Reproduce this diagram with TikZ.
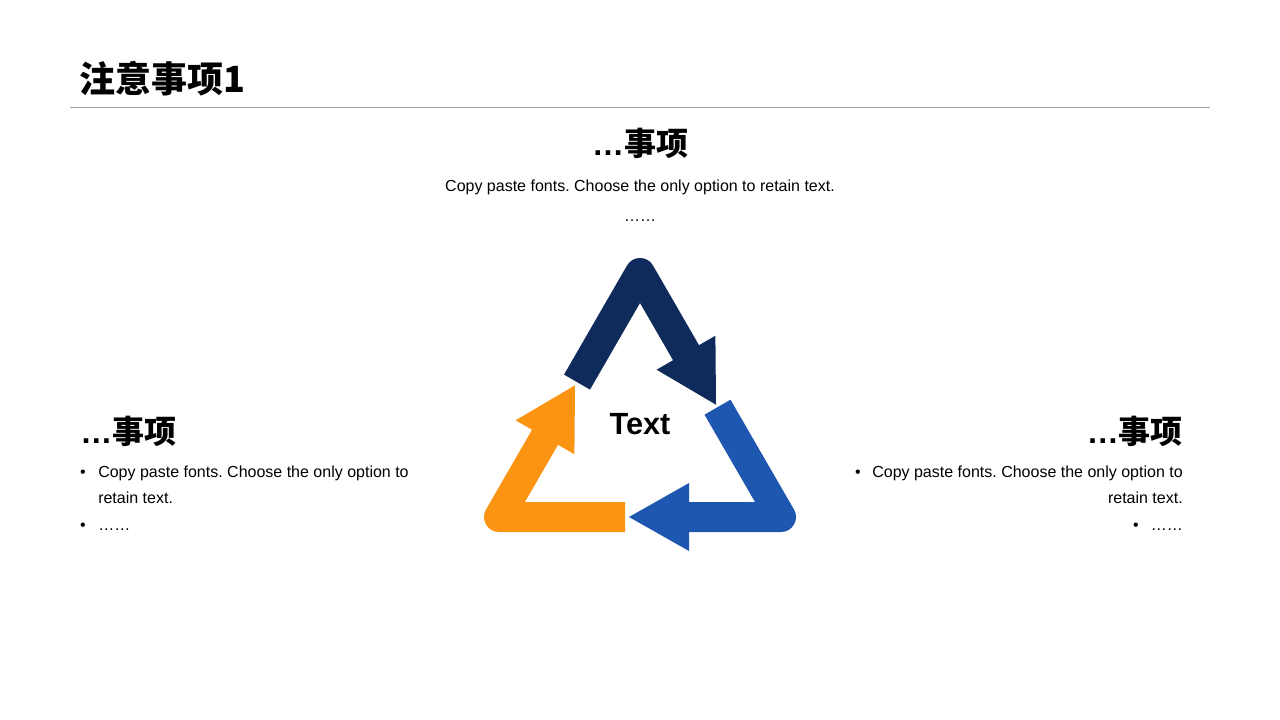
\documentclass[tikz,border=0pt]{standalone}
\usepackage{fontspec}
\setmainfont{Liberation Sans}
\newfontfamily\cjk{Noto Sans CJK SC}
\frenchspacing

\definecolor{navy}{HTML}{0F2B5B}
\definecolor{cobalt}{HTML}{1E57AF}
\definecolor{amber}{HTML}{FB9413}

\begin{document}
\begin{tikzpicture}[x=0.75pt,y=-0.75pt,
  band/.style={line width=22.5pt,line join=round},
  head/.style={inner sep=0pt,anchor=base,font=\fontsize{24}{28}\selectfont\bfseries},
  body/.style={inner sep=0pt,anchor=base,font=\fontsize{12}{14}\selectfont}]
\useasboundingbox (0,0) rectangle (1280,720);

% title and rule
\node[inner sep=0pt,anchor=base west,font=\fontsize{27}{32}\selectfont\bfseries] (title) at (79,92.5) {\cjk 注意事项1};
\draw[black!35,line width=0.75pt] (70,108) -- (1210,108);

% top block
\node[head] (topHead) at (640,156) {…\cjk 事项};
\node[body] (topBody) at (640,191.5) {Copy paste fonts. Choose the only option to retain text.};
\node[body] (topDots) at (640,221.5) {……};

% triangle of arrows
\coordinate (apex) at (640,273);
\coordinate (cornerL) at (499,517);
\coordinate (cornerR) at (781,517);

\draw[band,navy] (577,382.1) -- (apex) -- (687,354.4);
\fill[navy] (715.4,335.7) -- (716,404.7) -- (656.6,369.7) -- cycle;

\draw[band,cobalt] (717.5,407.2) -- (cornerR) -- (687,517);
\fill[cobalt] (689,483) -- (629,517) -- (689,551) -- cycle;

\draw[band,amber] (625,517) -- (cornerL) -- (546,435.6);
\fill[amber] (574.4,454.3) -- (575,385.3) -- (515.6,420.3) -- cycle;

\node[inner sep=0pt,anchor=base,font=\fontsize{23}{28}\selectfont\bfseries] (centerText) at (640,434.5) {Text};

% left block
\node[head,anchor=base west] (leftHead) at (80,443) {…\cjk 事项};
\node[body] (leftDotA) at (83,477) {•};
\node[body,anchor=base west] (leftItemA) at (98,477) {Copy paste fonts. Choose the only option to};
\node[body,anchor=base west] (leftItemB) at (98,503.5) {retain text.};
\node[body] (leftDotB) at (83,530.5) {•};
\node[body,anchor=base west] (leftItemC) at (98,530.5) {……};

% right block
\node[head,anchor=base east] (rightHead) at (1183,443) {…\cjk 事项};
\node[body] (rightDotA) at (858,477) {•};
\node[body,anchor=base east] (rightItemA) at (1183,477) {Copy paste fonts. Choose the only option to};
\node[body,anchor=base east] (rightItemB) at (1183,503.5) {retain text.};
\node[body] (rightDotB) at (1136,530.5) {•};
\node[body,anchor=base east] (rightItemC) at (1183,530.5) {……};

\end{tikzpicture}
\end{document}
